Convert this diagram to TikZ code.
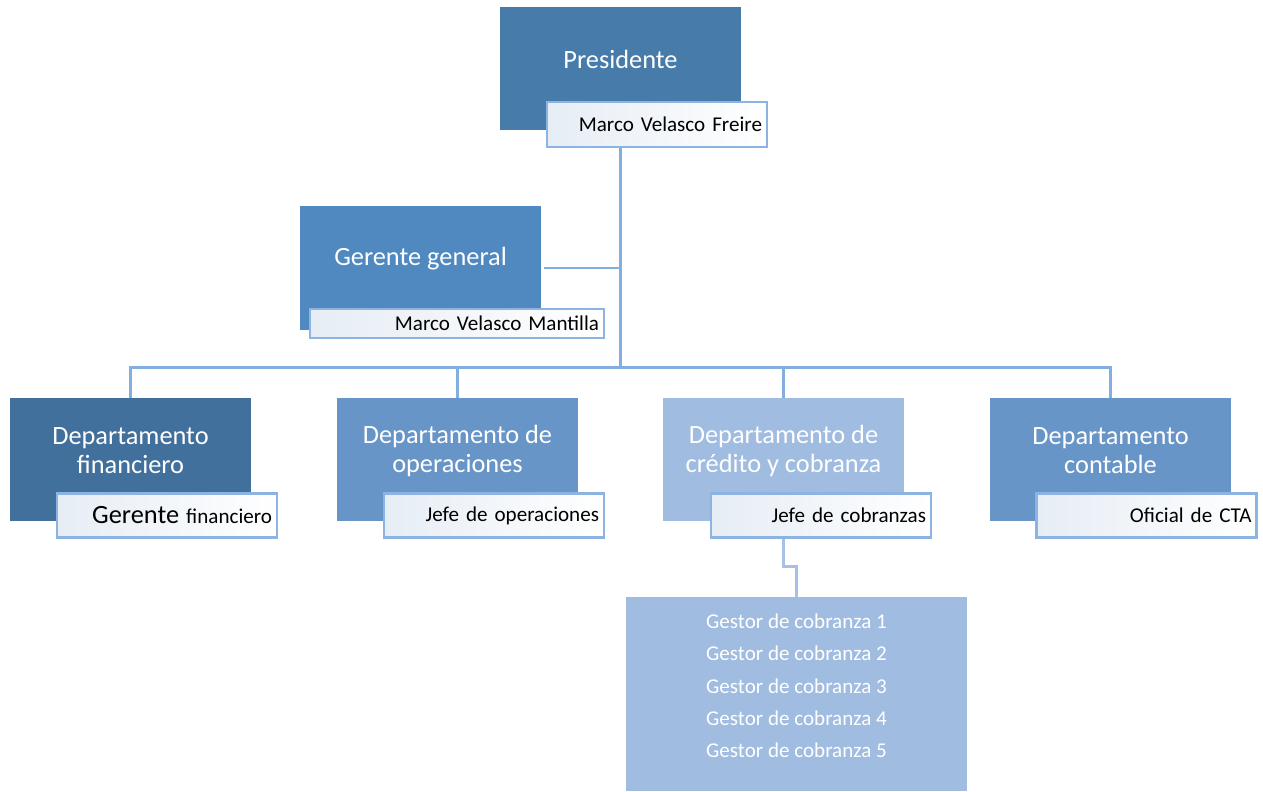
\documentclass[tikz,border=0pt]{standalone}
\usepackage{fontspec}
\setmainfont{Carlito}
\definecolor{presblue}{HTML}{467BAA}
\definecolor{gerblue}{HTML}{4F89C0}
\definecolor{finblue}{HTML}{41709D}
\definecolor{midblue}{HTML}{6895C7}
\definecolor{paleblue}{HTML}{A0BCE0}
\definecolor{linkblue}{HTML}{82AFE0}
\definecolor{palelink}{HTML}{A6C1E5}
\definecolor{borderblue}{HTML}{8DB3E2}
\definecolor{namefill}{HTML}{E6EDF5}
\tikzset{
  box/.style={rectangle, inner sep=0pt, minimum width=4.82cm, minimum height=2.46cm},
  boxtext/.style={text=white, align=center, font=\fontsize{15}{16.4}\selectfont},
  namebox/.style={draw=borderblue, line width=1.2pt, left color=namefill, right color=white,
    minimum height=0.88cm, text width=4.2cm, align=right, inner xsep=0.1cm, inner ysep=0pt,
    font=\fontsize{12}{14}\selectfont},
  link/.style={draw=linkblue, line width=1.7pt}
}
\begin{document}
\begin{tikzpicture}[x=0.02cm, y=-0.02cm]
\useasboundingbox (0,0) rectangle (1263,791);
% cajas principales
\node[box, fill=presblue] (pres) at (620.5,68.5) {};
\node[box, fill=gerblue, minimum height=2.48cm] (gg) at (420.5,268) {};
\node[box, fill=finblue] (fin) at (130.5,459.5) {};
\node[box, fill=midblue] (oper) at (457.5,459.5) {};
\node[box, fill=paleblue] (cred) at (783.5,459.5) {};
\node[box, fill=midblue] (cont) at (1110.5,459.5) {};
\node[box, fill=paleblue, minimum width=6.82cm, minimum height=3.88cm] (gest) at (796.5,694) {};
% conectores
\coordinate (bus) at (620.5,368);
\path[link] (pres.south) -- (bus);
\path[link] ([xshift=0.06cm]gg.east) -- (gg.east -| bus);
\path[link] (fin.north) -- ++(0,-30) -| (cont.north);
\path[link] (oper.north) -- ++(0,-30);
\path[link] (cred.north) -- ++(0,-30);
\path[link, draw=palelink] (cred.south) -- ++(0,45) -| (gest.north);
% nombres
\node[namebox, minimum height=0.9cm] (pres-n) at (657,124.5) {Marco Velasco Freire};
\node[namebox, minimum height=0.58cm, text width=5.68cm] (gg-n) at (457,323.5) {Marco Velasco Mantilla};
\node[namebox] (fin-n) at (167,515.5) {{\fontsize{15}{16}\selectfont Gerente} financiero};
\node[namebox] (oper-n) at (494,515.5) {Jefe de operaciones};
\node[namebox] (cred-n) at (821,515.5) {Jefe de cobranzas};
\node[namebox] (cont-n) at (1146.5,515.5) {Oficial de CTA};
% textos
\node[boxtext] (pres-t) at ([yshift=0.18cm]pres.center) {Presidente};
\node[boxtext] (gg-t) at ([yshift=0.18cm]gg.center) {Gerente general};
\node[boxtext] (fin-t) at ([yshift=0.17cm]fin.center) {Departamento\\financiero};
\node[boxtext] (oper-t) at ([yshift=0.17cm]oper.center) {Departamento de\\operaciones};
\node[boxtext] (cred-t) at ([yshift=0.17cm]cred.center) {Departamento de\\crédito y cobranza};
\node[boxtext] (cont-t) at ([yshift=0.17cm]cont.center) {Departamento\\contable};
\node[boxtext, font=\fontsize{12}{18.4}\selectfont] (gest-t) at ([yshift=0.16cm]gest.center)
  {Gestor de cobranza 1\\Gestor de cobranza 2\\Gestor de cobranza 3\\Gestor de cobranza 4\\Gestor de cobranza 5};
\end{tikzpicture}
\end{document}
